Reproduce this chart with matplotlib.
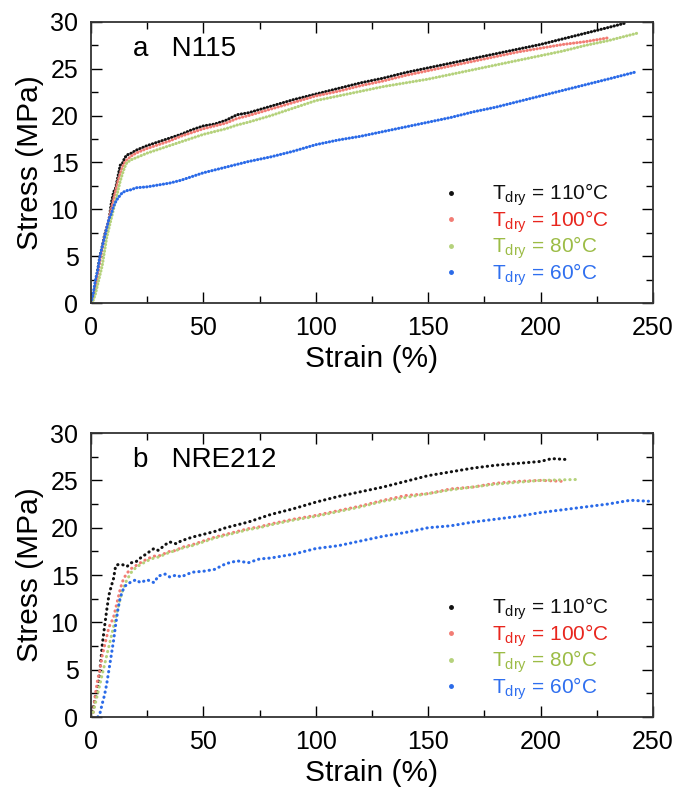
import matplotlib
matplotlib.use("Agg")
import matplotlib.pyplot as plt
from matplotlib.lines import Line2D

plt.rcParams.update({
    "font.family": ["Liberation Sans", "DejaVu Sans"],
    "mathtext.fontset": "custom",
    "mathtext.rm": "Liberation Sans",
    "mathtext.it": "Liberation Sans",
    "axes.linewidth": 1.3,
})

# ---- panel a: N115 ----
a_strain = [0, 1, 2, 3, 4, 5, 6, 7, 8, 9, 10, 11, 12, 13, 14, 15, 16, 18, 20, 25, 30, 35, 40, 45,
            50, 55, 60, 65, 70, 80, 90, 100, 110, 120, 130, 140, 150, 160, 170, 180, 190, 200,
            210, 220, 230]
a_110_x = a_strain + [238]
a_110_y = [0, 0.8, 2, 3.5, 5, 6, 7.2, 8, 8.8, 10.6, 11.8, 12.3, 13.5, 14.7, 14.9, 15.5, 15.8, 16.0,
           16.3, 16.8, 17.2, 17.6, 18.0, 18.5, 18.9, 19.1, 19.5, 20.1, 20.3, 21.0, 21.7, 22.3,
           22.9, 23.5, 24.0, 24.6, 25.1, 25.6, 26.1, 26.6, 27.1, 27.6, 28.2, 28.8, 29.4, 29.9]
a_100_x = a_strain
a_100_y = [0, 0.5, 1.5, 3, 4.5, 5.8, 7, 8, 9, 10, 11, 12, 13, 13.8, 14.5, 15, 15.3, 15.7, 16.0, 16.5,
           16.9, 17.3, 17.8, 18.2, 18.6, 18.9, 19.2, 19.7, 20.0, 20.7, 21.4, 22.1, 22.6, 23.2,
           23.7, 24.3, 24.8, 25.3, 25.8, 26.3, 26.8, 27.2, 27.6, 27.9, 28.3]
a_80_x = a_strain + [243]
a_80_y = [0, 0.3, 1, 2, 3, 4, 5.5, 7, 8, 9, 10, 11, 12, 13, 13.8, 14.5, 15, 15.3, 15.5, 16.0, 16.4,
          16.8, 17.2, 17.6, 18.0, 18.3, 18.6, 19.0, 19.3, 20.0, 20.8, 21.6, 22.1, 22.6, 23.1,
          23.5, 23.9, 24.4, 24.9, 25.4, 25.9, 26.4, 26.9, 27.5, 28.0, 28.8]
a_60_x = a_strain + [243]
a_60_y = [0, 1, 2.5, 3.5, 5, 6, 7, 8, 9, 9.5, 10.3, 10.8, 11.2, 11.5, 11.8, 11.9, 12.0, 12.1, 12.3,
          12.4, 12.6, 12.8, 13.1, 13.5, 13.9, 14.2, 14.5, 14.8, 15.1, 15.6, 16.2, 16.9, 17.4,
          17.8, 18.3, 18.8, 19.3, 19.8, 20.4, 20.9, 21.5, 22.1, 22.7, 23.3, 23.9, 24.7]

# ---- panel b: NRE212 ----
b_110_x = [0, 1, 2, 3, 4, 5, 6, 7, 8, 9, 10, 11, 12, 14, 16, 18, 20, 22, 25, 28, 30, 33, 35, 38, 40,
           45, 50, 55, 60, 65, 70, 75, 80, 90, 100, 110, 120, 130, 140, 150, 160, 170, 180, 190,
           200, 205, 212]
b_110_y = [0, 1, 2.2, 3.2, 5, 7.6, 9.5, 11.3, 12.9, 13.8, 14.6, 16.0, 16.1, 16.1, 15.9, 16.3, 16.4,
           16.8, 17.3, 17.8, 17.6, 18.2, 18.5, 18.3, 18.6, 19.0, 19.3, 19.6, 20.0, 20.3, 20.6,
           21.0, 21.4, 22.0, 22.7, 23.3, 23.8, 24.3, 24.9, 25.5, 25.9, 26.3, 26.6, 26.8, 27.0,
           27.3, 27.2]
b_strain = [0, 1, 2, 3, 4, 5, 6, 7, 8, 9, 10, 11, 12, 13, 14, 15, 16, 18, 20, 22, 25, 28, 30, 33, 35,
            38, 40, 45, 50, 55, 60, 65, 70, 75, 80, 90, 100, 110, 120, 130, 140, 150, 160, 170,
            180, 190, 200]
b_100_x = b_strain + [210]
b_100_y = [0, 0.5, 2.5, 4, 5, 6.5, 7.5, 8.5, 9.5, 10, 10.5, 11.5, 12.5, 13.5, 14.3, 14.8, 15.2,
           15.7, 16.0, 16.3, 16.7, 17.0, 17.0, 17.3, 17.5, 17.6, 17.9, 18.2, 18.6, 19.0, 19.3,
           19.6, 19.9, 20.1, 20.4, 20.9, 21.3, 21.8, 22.3, 22.9, 23.4, 23.6, 24.1, 24.3, 24.7,
           24.9, 25.0, 24.9]
b_80_x = b_strain + [217]
b_80_y = [0, 0.5, 1.5, 2.5, 3.5, 4.5, 5.5, 6.5, 7.5, 8.5, 9.5, 10.5, 11.5, 12.5, 13.3, 14.0, 14.5,
          15.3, 15.8, 16.1, 16.5, 16.8, 16.9, 17.2, 17.4, 17.6, 17.8, 18.1, 18.5, 18.9, 19.2,
          19.5, 19.8, 20.0, 20.3, 20.8, 21.2, 21.7, 22.2, 22.8, 23.2, 23.6, 24.0, 24.3, 24.6,
          24.8, 25.0, 25.1]
b_60_x = [3, 4, 5, 6, 7, 8, 9, 10, 11, 12, 13, 14, 15, 16, 18, 20, 22, 25, 28, 30, 33, 35, 38, 40,
          45, 50, 55, 60, 65, 70, 75, 80, 90, 100, 110, 120, 130, 140, 150, 160, 170, 180, 190,
          200, 210, 220, 230, 240, 248]
b_60_y = [0, 0.4, 1.4, 2.3, 3.5, 5, 6.5, 8, 9.8, 11.4, 12.6, 13.3, 13.8, 14.0, 14.3, 14.5, 14.2,
          14.5, 14.2, 14.9, 15.1, 14.8, 15.0, 14.8, 15.3, 15.4, 15.6, 16.2, 16.5, 16.3, 16.7,
          16.8, 17.2, 17.8, 18.1, 18.6, 19.1, 19.5, 20.0, 20.2, 20.6, 20.9, 21.2, 21.6, 21.9,
          22.2, 22.5, 22.9, 22.8]

temps = ["110", "100", "80", "60"]
dot_colors = ["#111111", "#f27c74", "#b5d27c", "#2a6ae8"]
text_colors = ["#111111", "#e8261e", "#9cbc46", "#2f6fef"]

panels = [
    ("a   N115", [(a_110_x, a_110_y), (a_100_x, a_100_y), (a_80_x, a_80_y), (a_60_x, a_60_y)],
     [0.1344, 0.6179, 0.830, 0.3544], (0, (0.1, 1.0))),
    ("b   NRE212", [(b_110_x, b_110_y), (b_100_x, b_100_y), (b_80_x, b_80_y), (b_60_x, b_60_y)],
     [0.1344, 0.0958, 0.830, 0.3581], (0, (0.1, 1.6))),
]

fig = plt.figure(figsize=(6.77, 7.93), dpi=100)
for title, series, rect, dash in panels:
    ax = fig.add_axes(rect)
    for (x, y), c in zip(series, dot_colors):
        ax.plot(x, y, color=c, lw=2.2, ls=dash, dash_capstyle="round")
    ax.set_xlim(0, 250)
    ax.set_ylim(0, 30)
    ax.set_xticks([0, 50, 100, 150, 200, 250])
    ax.set_xticks([25, 75, 125, 175, 225], minor=True)
    ax.set_yticks([0, 5, 10, 15, 20, 25, 30])
    ax.set_yticks([2.5, 7.5, 12.5, 17.5, 22.5, 27.5], minor=True)
    ax.tick_params(which="major", direction="in", length=8, width=1.0, top=True, right=True,
                   labelsize=18, pad=9)
    ax.tick_params(which="minor", direction="in", length=5, width=1.0, top=True, right=True)
    for s in ax.spines.values():
        s.set_color("#333333")
    ax.set_xlabel("Strain (%)", fontsize=21.5, labelpad=4)
    ax.set_ylabel("Stress (MPa)", fontsize=21.5, labelpad=5)
    ax.text(0.075, 0.905, title, transform=ax.transAxes, fontsize=20, va="center")
    handles = [Line2D([], [], ls="none", marker="o", ms=2.5, color=c, mec=c) for c in dot_colors]
    labels = [f"T$_{{\\rm dry}}$ = {t}°C" for t in temps]
    ax.legend(handles, labels, loc="lower right", bbox_to_anchor=(0.937, 0.025), frameon=False,
              fontsize=15, labelcolor=text_colors, handlelength=1.0, handletextpad=1.5,
              labelspacing=0.0, borderaxespad=0)

fig.savefig("out.png", dpi=100)
